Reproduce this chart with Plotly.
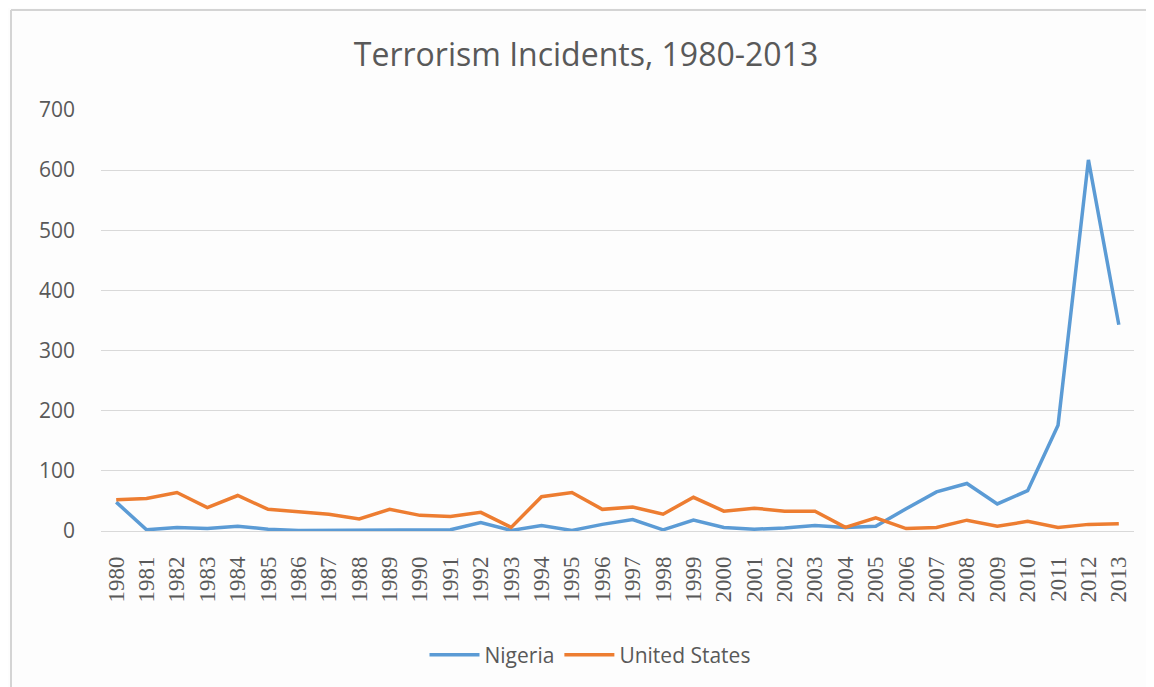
import plotly.graph_objects as go

years = [str(y) for y in range(1980, 2014)]
nigeria = [48, 2, 6, 4, 8, 3, 1, 1, 2, 1, 1, 2, 14, 1, 9, 1, 11, 19, 2, 18,
           6, 3, 5, 9, 6, 8, 37, 65, 79, 45, 67, 176, 617, 343]
united_states = [52, 54, 64, 39, 59, 36, 32, 28, 20, 36, 26, 24, 31, 6, 57, 64, 36, 40, 28, 56,
                 33, 38, 33, 33, 6, 22, 4, 6, 18, 8, 16, 6, 11, 12]

W, H = 1146, 679
L, R, T, B = 93, 20, 102, 156
PW, PH = W - L - R, H - T - B

fig = go.Figure()
fig.add_trace(go.Scatter(x=years, y=nigeria, name="Nigeria", mode="lines",
                         line=dict(color="#5B9BD5", width=3.5)))
fig.add_trace(go.Scatter(x=years, y=united_states, name="United States", mode="lines",
                         line=dict(color="#ED7D31", width=3.5)))

fig.update_layout(
    width=W, height=H,
    margin=dict(l=L, r=R, t=T, b=B),
    paper_bgcolor="#fdfdfd", plot_bgcolor="#fdfdfd",
    title=dict(text="Terrorism Incidents, 1980-2013", x=(586 - 8) / W, xanchor="center",
               y=1 - 47 / H, yref="container", yanchor="middle",
               font=dict(family="Open Sans", size=32, color="#595959")),
    showlegend=True,
    legend=dict(orientation="h", x=(590 - 8 - L) / PW, xanchor="center",
                y=(T + PH - 647) / PH, yanchor="middle",
                font=dict(family="Open Sans", size=21, color="#595959"),
                itemwidth=50, bgcolor="rgba(0,0,0,0)"),
    xaxis=dict(type="category", range=[-0.5, 33.5], tickangle=-90,
               showgrid=False, showline=False, zeroline=False,
               tickfont=dict(family="Liberation Serif", size=23, color="#595959"),
               ticks="", ticklabelstandoff=20),
    yaxis=dict(range=[0, 700], dtick=100, showgrid=True, gridcolor="#d9d9d9", gridwidth=1,
               zeroline=True, zerolinecolor="#d9d9d9", zerolinewidth=1, showline=False,
               tickfont=dict(family="Open Sans", size=21, color="#595959"),
               ticks="", ticklabelstandoff=25),
    shapes=[
        dict(type="line", xref="paper", yref="paper", x0=(3 - L) / PW, x1=1.05,
             y0=(T + PH - 2) / PH, y1=(T + PH - 2) / PH, line=dict(color="#d4d4d4", width=2)),
        dict(type="line", xref="paper", yref="paper", x0=(3 - L) / PW, x1=(3 - L) / PW,
             y0=(T + PH - 2) / PH, y1=-0.4, line=dict(color="#d4d4d4", width=2)),
    ],
)

fig.write_html("out.html")
